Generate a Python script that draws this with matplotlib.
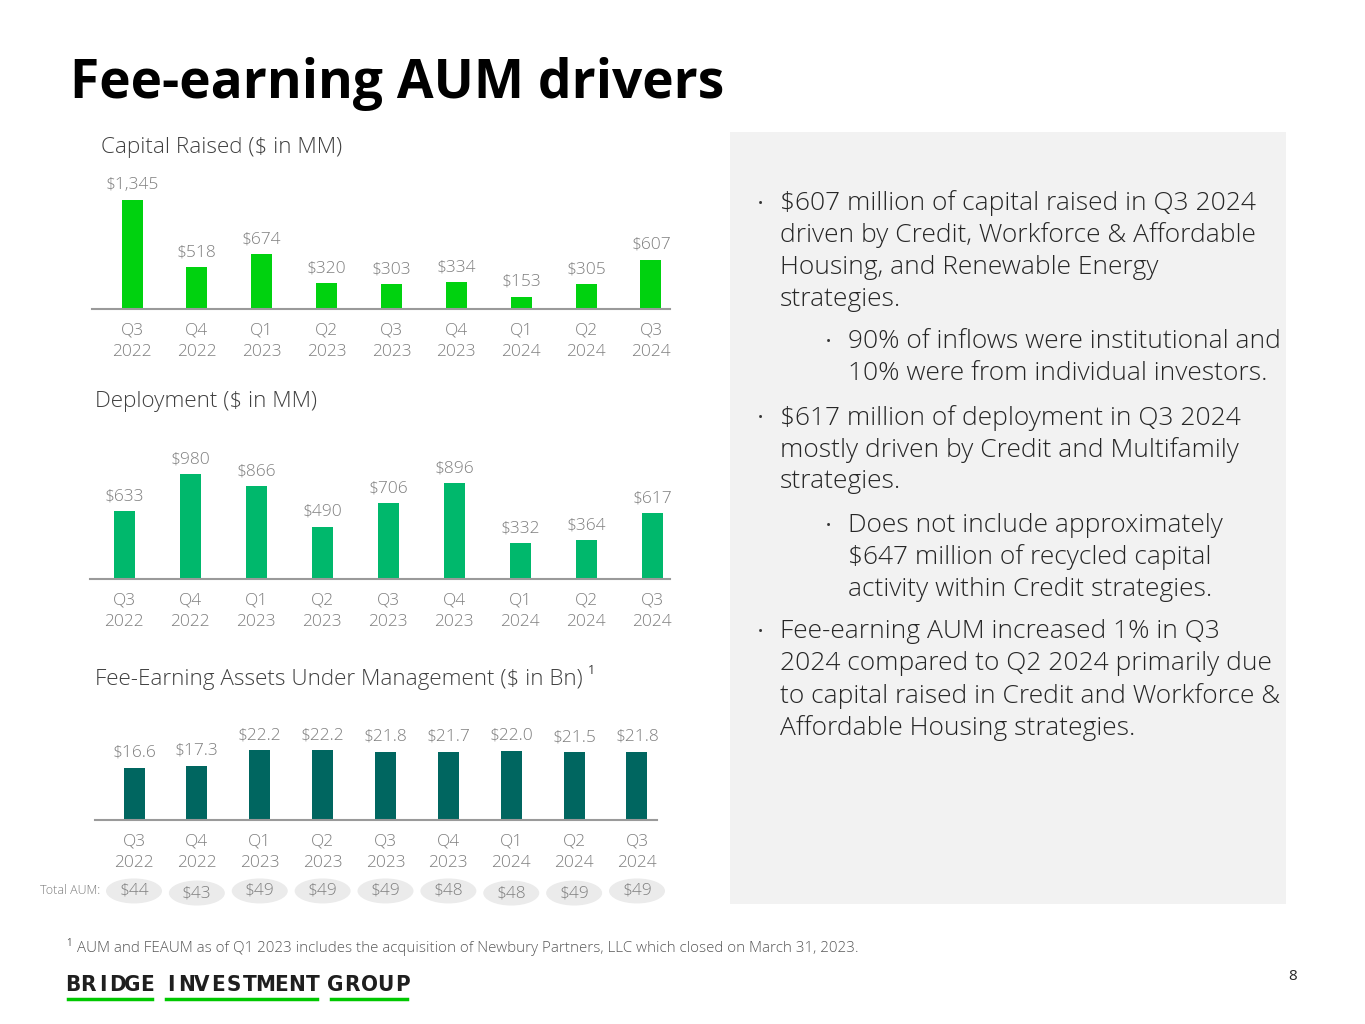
import matplotlib
matplotlib.use("Agg")
import matplotlib.pyplot as plt
from matplotlib.patches import Rectangle, Ellipse

plt.rcParams['font.family'] = ['Open Sans', 'DejaVu Sans']

quarters = ["Q3\n2022", "Q4\n2022", "Q1\n2023", "Q2\n2023", "Q3\n2023",
            "Q4\n2023", "Q1\n2024", "Q2\n2024", "Q3\n2024"]
capital_raised = [1345, 518, 674, 320, 303, 334, 153, 305, 607]
deployment = [633, 980, 866, 490, 706, 896, 332, 364, 617]
feaum = [16.6, 17.3, 22.2, 22.2, 21.8, 21.7, 22.0, 21.5, 21.8]
total_aum = [44, 43, 49, 49, 49, 48, 48, 49, 49]

W, H = 1365, 1024
fig = plt.figure(figsize=(W / 100, H / 100), dpi=100)
fig.patch.set_facecolor("white")

GRAY = "#7f7f7f"
DARK = "#404040"


def fx(x):
    return x / W


def fy(y):
    return 1 - y / H


def px_axes(left, right, base, height):
    return fig.add_axes([fx(left), fy(base), (right - left) / W, height / H])


def bar_chart(ax, vals, fmt, color, first, last, left, right, scale, height_px, width_px):
    step = (last - first) / (len(vals) - 1)
    x = list(range(len(vals)))
    ax.bar(x, vals, width=width_px / step, color=color, zorder=2)
    ax.set_xlim(-(first - left) / step, len(vals) - 1 + (right - last) / step)
    ax.set_ylim(0, height_px / scale)
    for i, v in enumerate(vals):
        ax.annotate(fmt.format(v), (i, v), xytext=(0, 5), textcoords="offset points",
                    ha="center", va="bottom", fontsize=12.5, color=GRAY, fontweight="light")
    ax.set_xticks(x)
    ax.set_xticklabels(quarters, fontsize=12.5, color=GRAY, fontweight="light", linespacing=1.4)
    ax.tick_params(axis="x", length=0, pad=10)
    ax.set_yticks([])
    for s in ["top", "right", "left"]:
        ax.spines[s].set_visible(False)
    ax.spines["bottom"].set_color("#9a9a9a")
    ax.spines["bottom"].set_linewidth(1.5)
    ax.patch.set_alpha(0)
    return step


# title
fig.text(fx(70), fy(84), "Fee-earning AUM drivers", fontsize=38.3, fontweight="bold",
         color="#000000", va="center", ha="left")

# chart 1
ax1 = px_axes(92, 670, 309, 135)
bar_chart(ax1, capital_raised, "${:,}", "#00d20f", 132, 651, 92, 670, 0.081, 135, 21)
fig.text(fx(101), fy(148), "Capital Raised ($ in MM)", fontsize=16.2, color=DARK,
         va="center", fontweight="light")

# chart 2
ax2 = px_axes(90, 670, 579, 135)
bar_chart(ax2, deployment, "${:,}", "#00b86c", 124, 652, 90, 670, 0.107, 135, 21)
fig.text(fx(95), fy(402), "Deployment ($ in MM)", fontsize=16.2, color=DARK,
         va="center", fontweight="light")

# chart 3
ax3 = px_axes(95, 657, 820, 110)
step3 = bar_chart(ax3, feaum, "${:.1f}", "#006660", 134, 637, 95, 657, 3.14, 110, 21)
fig.text(fx(95), fy(680), "Fee-Earning Assets Under Management ($ in Bn)", fontsize=16.2,
         color=DARK, va="center", fontweight="light")
fig.text(fx(588), fy(671), "1", fontsize=9, color=DARK, va="center")

# total AUM pills
fig.text(fx(100), fy(891), "Total AUM:", fontsize=9, color=GRAY, va="center", ha="right",
         fontweight="light")
for i, v in enumerate(total_aum):
    yc = -0.664 if i in (1, 6, 7) else -0.645
    ax3.add_patch(Ellipse((i, yc), 56 / step3, 25 / 110, transform=ax3.get_xaxis_transform(),
                          fc="#ebebeb", ec="none", clip_on=False, zorder=1))
    ax3.text(i, yc, "${}".format(v), transform=ax3.get_xaxis_transform(),
             ha="center", va="center", fontsize=12.5, color=GRAY, fontweight="light", zorder=3)

# right panel
fig.patches.append(Rectangle((fx(730), fy(904)), (1286 - 730) / W, (904 - 132) / H,
                             transform=fig.transFigure, fc="#f2f2f2", ec="none", zorder=0))

bullets = [
    (0, 203, ["$607 million of capital raised in Q3 2024",
              "driven by Credit, Workforce & Affordable",
              "Housing, and Renewable Energy",
              "strategies."]),
    (1, 342, ["90% of inflows were institutional and",
              "10% were from individual investors."]),
    (0, 418, ["$617 million of deployment in Q3 2024",
              "mostly driven by Credit and Multifamily",
              "strategies."]),
    (1, 525, ["Does not include approximately",
              "$647 million of recycled capital",
              "activity within Credit strategies."]),
    (0, 632, ["Fee-earning AUM increased 1% in Q3",
              "2024 compared to Q2 2024 primarily due",
              "to capital raised in Credit and Workforce &",
              "Affordable Housing strategies."]),
]
for level, y0, lines in bullets:
    bx = 760 if level == 0 else 828
    tx = 780 if level == 0 else 848
    fig.text(fx(bx), fy(y0 + 1), "\u2022", fontsize=10, color="#333333", va="center", ha="center")
    for k, line in enumerate(lines):
        fig.text(fx(tx), fy(y0 + 32 * k), line, fontsize=19, color="#262626",
                 va="center", ha="left", fontweight="light")

# footnote
fig.text(fx(66), fy(944), "1", fontsize=7, color="#595959", va="center")
fig.text(fx(77), fy(949), "AUM and FEAUM as of Q1 2023 includes the acquisition of Newbury Partners, "
         "LLC which closed on March 31, 2023.", fontsize=10.9, color="#595959", va="center",
         fontweight="light")

# logo: letter-spaced condensed wordmark with green underlines
words = [("BRIDGE", 68, 152), ("INVESTMENT", 166, 317), ("GROUP", 331, 407)]
for word, x0, x1 in words:
    c0, c1 = x0 + 4.5, x1 - 4.5
    adv = (c1 - c0) / (len(word) - 1)
    for j, ch in enumerate(word):
        fig.text(fx(c0 + adv * j), fy(985), ch, fontsize=16, fontweight="bold",
                 family=["Liberation Sans Narrow", "DejaVu Sans"], fontstretch="condensed",
                 color="#1f1f1f", ha="center", va="center")
    fig.lines.append(plt.Line2D([fx(x0), fx(x1)], [fy(999), fy(999)], transform=fig.transFigure,
                                color="#00c800", linewidth=2.5))

fig.text(fx(1293), fy(977), "8", fontsize=11, color="#262626", va="center", ha="center")

fig.savefig("out.png", dpi=100)
